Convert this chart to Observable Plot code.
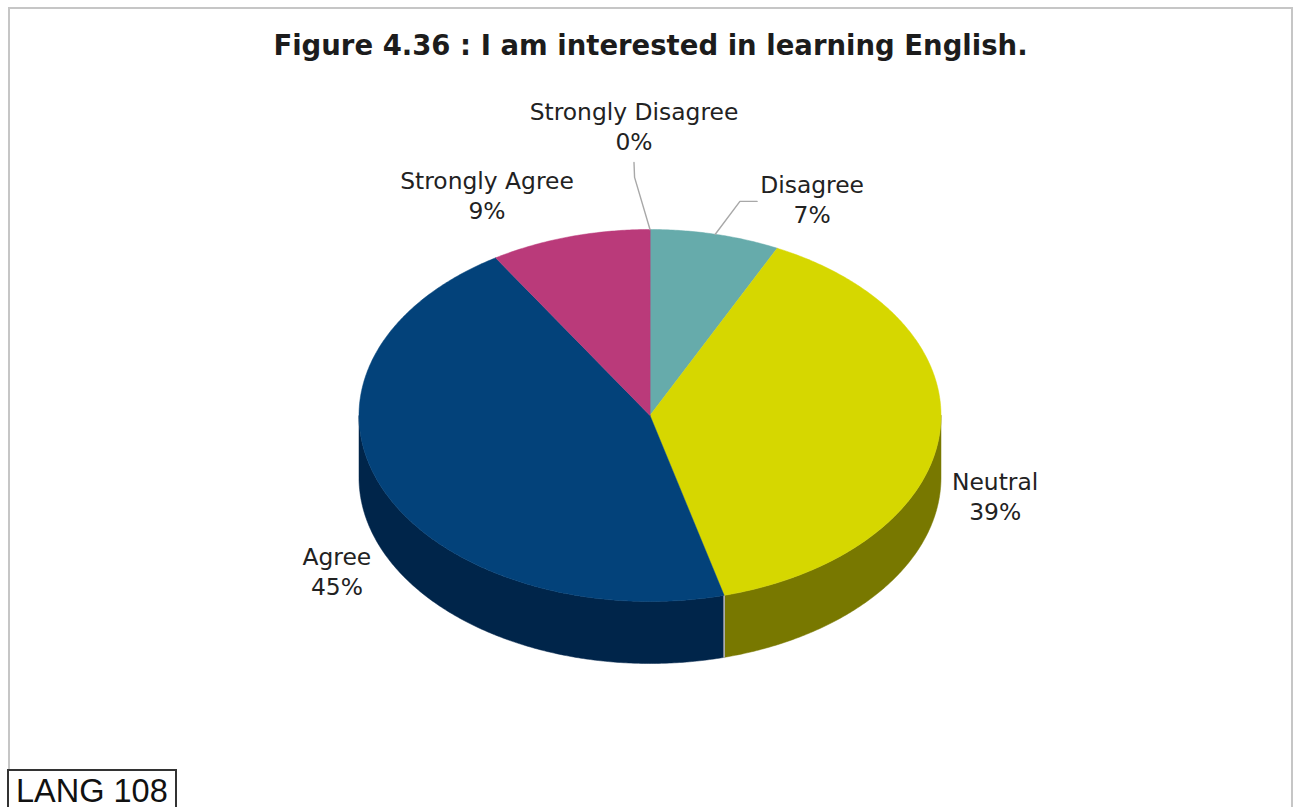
<!DOCTYPE html>
<html>
<head>
<meta charset="utf-8">
<script src="https://cdn.jsdelivr.net/npm/d3@7"></script>
<script src="https://cdn.jsdelivr.net/npm/@observablehq/plot@0.6"></script>
<style>
  html, body { margin: 0; padding: 0; background: #fff; overflow: hidden; width: 1294px; height: 807px; }
  #frame { position: absolute; left: 8px; top: 7px; width: 1285px; height: 900px; border: 2px solid #c6c6c6; box-sizing: border-box; }
  #title { position: relative; height: 62px; width: 1301px; text-align: center; font: bold 27.5px/90px "DejaVu Sans", sans-serif; color: #1c1c1c; white-space: nowrap; z-index: 1; }
  #chart { position: relative; height: 745px; z-index: 1; }
  #chart svg { display: block; background: transparent; }
  #tag { position: absolute; left: 7px; top: 769px; width: 170px; height: 60px; box-sizing: border-box; border: 2px solid #333; background: #fff; font: 32.5px/41px "Liberation Sans", Arial, sans-serif; color: #111; padding-left: 7px; z-index: 2; }
</style>
</head>
<body>
<div id="frame"></div>
<div id="title">Figure 4.36 : I am interested in learning English.</div>
<div id="chart"></div>
<div id="tag">LANG 108</div>
<script>
// Data, clockwise from twelve o'clock
const categories = ["Strongly Disagree", "Disagree", "Neutral", "Agree", "Strongly Agree"];
const shares = [0, 7.2, 38.7, 45.2, 8.9];

// Colours
const topColors = ["#9a9a9a", "#66abab", "#d6d700", "#03427a", "#ba3a7a"];
const wallColors = ["#4d4d4d", "#335555", "#787800", "#00254a", "#5d1d3d"];

// Label placement, in units of the pie's radius
const labelX = [-0.055, 0.557, 1.186, -1.076, -0.560];
const labelY = [1.562, 1.165, -0.432, -0.835, 1.191];

// Leader elbows, in units of the pie's radius
const leaderStrong = [[-0.055, 1.360], [-0.053, 1.280]];
const leaderDisagree = [[0.368, 1.151], [0.309, 1.151]];

const depth = 1 / 3; // wall height in radius units
const total = d3.sum(shares);
const ang = s => (s / total) * 2 * Math.PI;
const step = Math.PI / 360;

let cum = 0;
const slices = categories.map((name, i) => {
  const a0 = ang(cum);
  cum += shares[i];
  return {name, i, a0, a1: ang(cum)};
});

const arcAngles = (a0, a1) => {
  const out = d3.range(a0, a1, step);
  out.push(a1);
  return out;
};

const tops = [];
for (const s of slices) {
  if (s.a1 <= s.a0) continue;
  tops.push({part: s.name, x: 0, y: 0});
  for (const a of arcAngles(s.a0, s.a1)) tops.push({part: s.name, x: Math.sin(a), y: Math.cos(a)});
}

const walls = [];
for (const s of slices) {
  const a0 = Math.max(s.a0, Math.PI / 2);
  const a1 = Math.min(s.a1, 3 * Math.PI / 2);
  if (a1 <= a0) continue;
  const part = s.name + " wall";
  const as = arcAngles(a0, a1);
  for (const a of as) walls.push({part, x: Math.sin(a), y: Math.cos(a)});
  for (const a of as.slice().reverse()) walls.push({part, x: Math.sin(a), y: Math.cos(a) - depth});
}

// The light seam on the wall between Neutral and Agree
const seamAngle = slices[3].a0;
const seam = [
  {x: Math.sin(seamAngle), y: Math.cos(seamAngle)},
  {x: Math.sin(seamAngle), y: Math.cos(seamAngle) - depth}
];

const mid = s => (s.a0 + s.a1) / 2;
const leaders = [
  ...[...leaderStrong, [Math.sin(mid(slices[0])), Math.cos(mid(slices[0]))]].map(([x, y]) => ({k: "sd", x, y})),
  ...[...leaderDisagree, [Math.sin(mid(slices[1])), Math.cos(mid(slices[1]))]].map(([x, y]) => ({k: "d", x, y}))
];

const labels = categories.map((name, i) => ({
  text: `${name}\n${d3.format(".0f")(shares[i])}%`,
  x: labelX[i],
  y: labelY[i]
}));

const chart = Plot.plot({
  width: 1294,
  height: 745,
  margin: 0,
  style: {background: "transparent"},
  x: {domain: [-1, 1], range: [358.5, 940.5], axis: null},
  y: {domain: [-1, 1], range: [539, 167], axis: null},
  color: {
    domain: [...categories, ...categories.map(c => c + " wall")],
    range: [...topColors, ...wallColors]
  },
  marks: [
    Plot.line(walls, {x: "x", y: "y", z: "part", fill: "part", stroke: "part", strokeWidth: 0.5, curve: "linear-closed"}),
    Plot.line(seam, {x: "x", y: "y", stroke: "#b4b4b4", strokeWidth: 1.6}),
    Plot.line(tops, {x: "x", y: "y", z: "part", fill: "part", stroke: "part", strokeWidth: 0.5, curve: "linear-closed"}),
    Plot.line(leaders, {x: "x", y: "y", z: "k", stroke: "#a8a8a8", strokeWidth: 1.4}),
    Plot.text(labels, {x: "x", y: "y", text: "text", fontSize: 23.4, lineHeight: 1.28, fill: "#222", fontFamily: "DejaVu Sans"})
  ]
});
document.getElementById("chart").appendChild(chart);
</script>
</body>
</html>
